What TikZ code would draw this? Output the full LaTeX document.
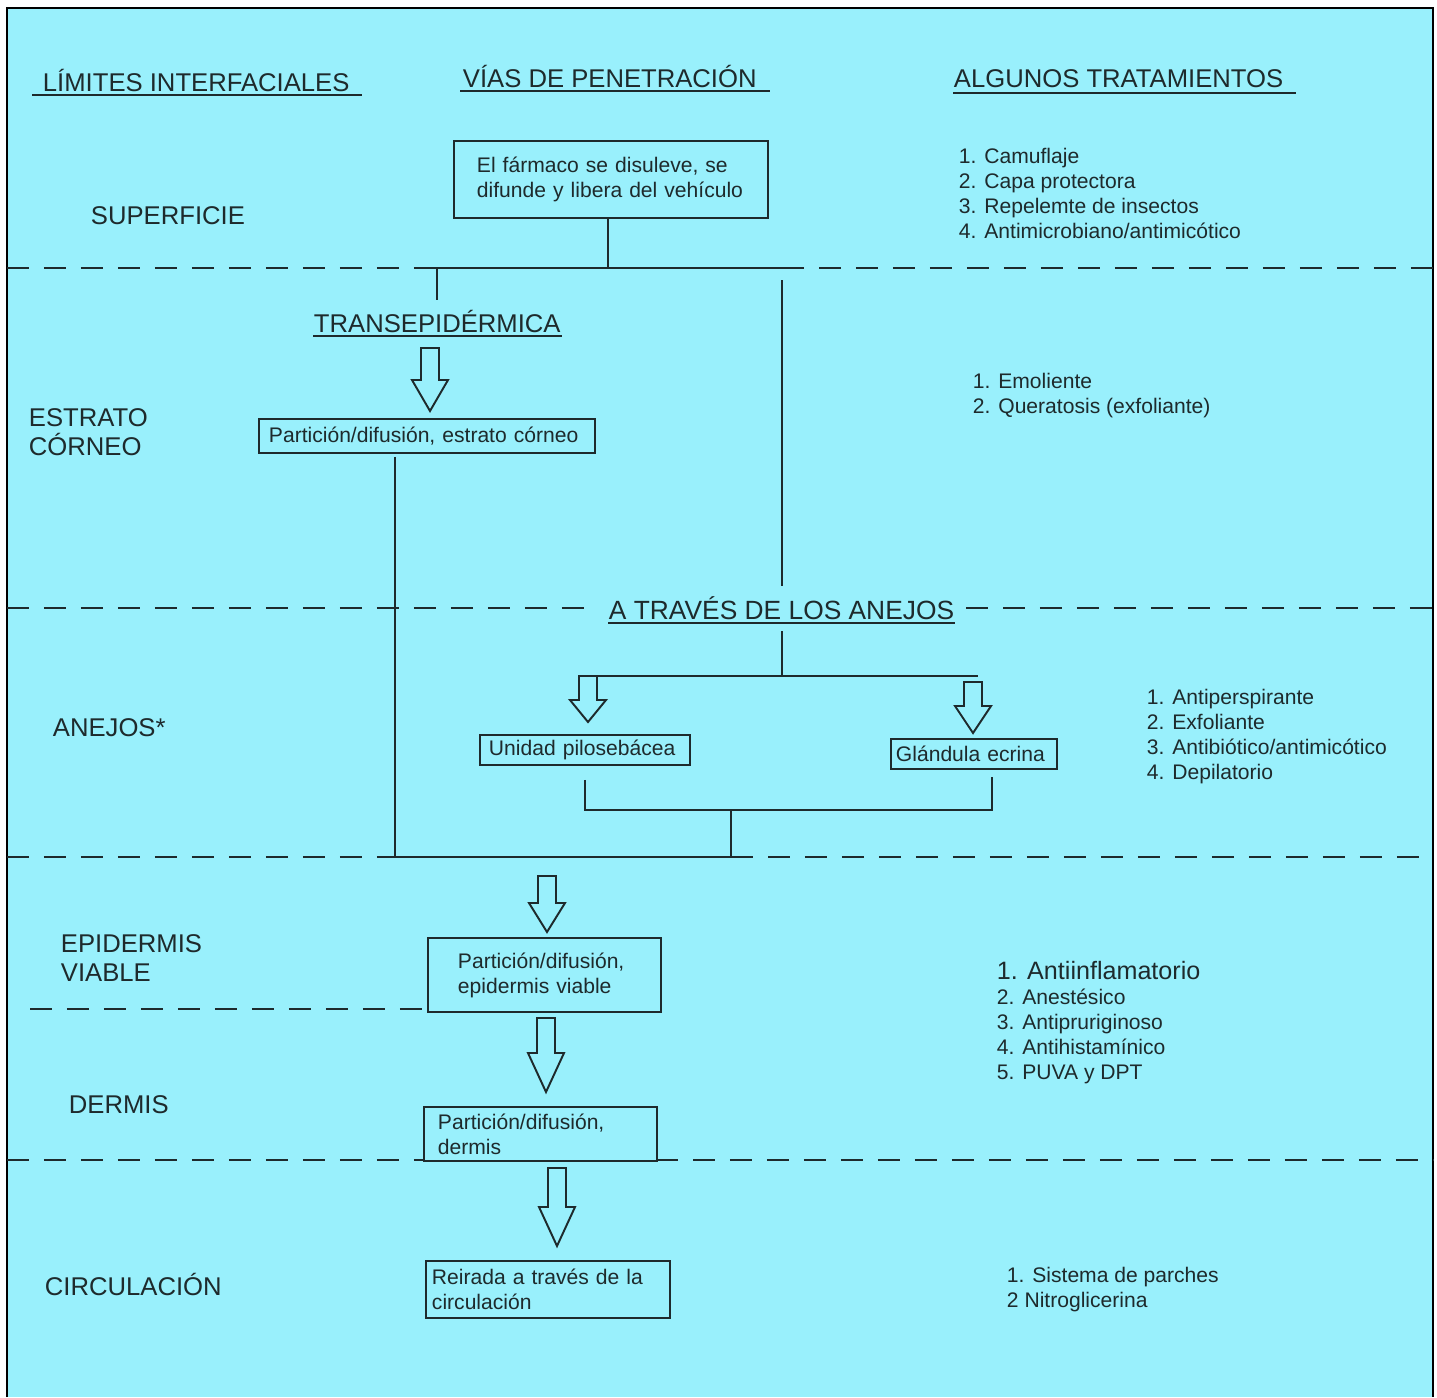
\documentclass[tikz,border=0pt]{standalone}
\usepackage{fontspec}
\setmainfont{Liberation Sans}
\usepackage{xcolor}
\usepackage{tikz}

\definecolor{skinbg}{RGB}{153,240,252}
\definecolor{ink}{RGB}{30,42,44}

\tikzset{
    big/.style={font=\fontsize{14.6}{16.4}\selectfont, inner sep=0pt, anchor=base west, align=left},
    small/.style={font=\fontsize{12}{14.2}\selectfont, inner sep=0pt, anchor=base west, align=left},
    box/.style={draw, rectangle, anchor=north west, inner ysep=0pt, align=left, font=\fontsize{12}{14.2}\selectfont},
    layer/.style={dash pattern=on 0.44cm off 0.3cm},
    uline/.style={line width=0.9pt},
    hollow/.style={fill=skinbg, line join=miter}
}

\begin{document}
\begin{tikzpicture}[x=0.02cm, y=-0.02cm, line width=1.1pt, color=ink]
    \useasboundingbox (0,0) rectangle (1437,1397);

    % Background and frame
    \fill[white] (0,0) rectangle (1437,1397);
    \fill[skinbg] (7,8) rectangle (1433,1397);
    \draw[black, line width=1.6pt] (7,1397) -- (7,8) -- (1433,8) -- (1433,1397);

    % Column titles
    \node[big] (lim) at (42,91) {LÍMITES INTERFACIALES};
    \node[big] (vias) at (462,87) {VÍAS DE PENETRACIÓN};
    \node[big] (trat) at (953,87) {ALGUNOS TRATAMIENTOS};
    \draw[uline] (32,95) -- (362,95);
    \draw[uline] (460,91) -- (770,91);
    \draw[uline] (953,93) -- (1296,93);

    % Layer names (base = last line)
    \node[big] (sup) at (90,224) {SUPERFICIE};
    \node[big] (est) at (28,455) {ESTRATO\\CÓRNEO};
    \node[big] (anx) at (52,736) {ANEJOS*};
    \node[big] (epi) at (60,981) {EPIDERMIS\\VIABLE};
    \node[big] (der) at (68,1113) {DERMIS};
    \node[big] (cir) at (44,1295) {CIRCULACIÓN};

    % Layer boundaries
    \foreach \y/\a/\b/\c/\d in {268/7/417/782/1433, 608/7/590/966/1433, 857/7/394/731/1433, 1160/7/423/656/1433} {
        \draw[layer] (\a,\y) -- (\b,\y);
        \draw[layer] (\c,\y) -- (\d,\y);
    }
    \draw[layer] (30,1009) -- (427,1009);

    % Routes
    \node[big] (transep) at (313,332) {TRANSEPIDÉRMICA};
    \node[big, font=\fontsize{15}{17}\selectfont] (anejos) at (608,619) {A TRAVÉS DE LOS ANEJOS};
    \foreach \n in {transep, anejos}
        \draw[uline] ([yshift=-0.08cm]\n.base west) -- ([yshift=-0.08cm]\n.base east);

    % Boxes
    \node[box, minimum height=1.54cm, inner xsep=0.46cm, text width=5.36cm] (fb) at (453,140) {El fármaco se disuleve, se\\difunde y libera del vehículo};
    \node[box, minimum height=0.68cm, inner xsep=0.2cm, text width=6.32cm] (ecb) at (258,418) {Partición/difusión, estrato córneo};
    \node[box, minimum height=0.6cm, inner xsep=0.18cm, text width=3.84cm] (pilo) at (479,734) {Unidad pilosebácea};
    \node[box, minimum height=0.6cm, inner xsep=0.1cm, text width=3.12cm] (ecr) at (890,738) {Glándula ecrina};
    \node[box, minimum height=1.48cm, inner xsep=0.6cm, text width=3.46cm] (epb) at (427,937) {Partición/difusión,\\epidermis viable};
    \node[box, minimum height=1.08cm, inner xsep=0.28cm, text width=4.1cm] (drb) at (423,1106) {Partición/difusión,\\dermis};
    \node[box, minimum height=1.14cm, inner xsep=0.12cm, text width=4.64cm] (crb) at (425,1260) {Reirada a través de la\\circulación};

    % Treatments (base = last line)
    \node[small] (tsup) at (958,238) {1. Camuflaje\\2. Capa protectora\\3. Repelemte de insectos\\4. Antimicrobiano/antimicótico};
    \node[small] (test) at (972,413) {1. Emoliente\\2. Queratosis (exfoliante)};
    \node[small] (tanx) at (1146,779) {1. Antiperspirante\\2. Exfoliante\\3. Antibiótico/antimicótico\\4. Depilatorio};
    \node[small] (tepi) at (996,1079) {{\fontsize{14.3}{16}\selectfont 1. Antiinflamatorio}\\2. Anestésico\\3. Antipruriginoso\\4. Antihistamínico\\5. PUVA y DPT};
    \node[small] (tcir) at (1006,1307) {1. Sistema de parches\\2 Nitroglicerina};

    % Connectors
    \coordinate (tl) at (417,268);
    \coordinate (tr) at (782,268);
    \coordinate (rt) at (782,280);
    \coordinate (fork) at (782,676);
    \coordinate (join) at (731,810);
    \coordinate (merge) at (731,857);
    \coordinate (ecrout) at ([xshift=0.36cm]ecr.south);
    \coordinate (ecbout) at ([xshift=-0.64cm]ecb.south);
    \draw (tl) -- (tr);
    \draw ([xshift=-0.06cm]fb.south) -- ([xshift=-0.06cm]fb.south |- tl);
    \draw (transep.north |- tl) -- ([yshift=0.18cm]transep.north);
    \draw (rt) -- ([yshift=0.18cm]rt |- anejos.north);
    \draw ([yshift=-0.22cm]fork |- anejos.south) -- (fork);
    \draw (579,676) -- (978,676);
    \draw ([yshift=-0.28cm]pilo.south) -- (pilo.south |- join) -- (ecrout |- join) -- ([yshift=-0.14cm]ecrout);
    \draw (join) -- (merge);
    \draw ([yshift=-0.06cm]ecbout) -- (ecbout |- merge) -- (merge);

    % Hollow arrows
    \foreach \x/\t/\h/\b in {430/348/380/411, 588/676/700/722, 973/682/706/733, 547/876/903/932, 546/1018/1053/1092, 557/1168/1207/1246} {
        \filldraw[hollow] (\x-9,\t) -- (\x+9,\t) -- (\x+9,\h) -- (\x+18,\h) -- (\x,\b) -- (\x-18,\h) -- (\x-9,\h) -- cycle;
    }
\end{tikzpicture}
\end{document}
